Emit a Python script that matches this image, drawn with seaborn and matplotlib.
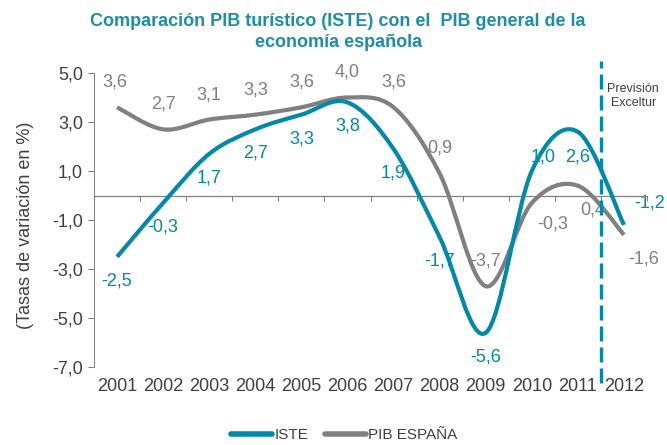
import matplotlib
matplotlib.use("Agg")
import matplotlib.pyplot as plt
import seaborn as sns
import pandas as pd
from matplotlib.path import Path
from matplotlib.patches import PathPatch
from matplotlib.lines import Line2D

YEARS = ["2001", "2002", "2003", "2004", "2005", "2006",
         "2007", "2008", "2009", "2010", "2011", "2012"]
ISTE = [-2.5, -0.3, 1.7, 2.7, 3.3, 3.8, 1.9, -1.7, -5.6, 1.0, 2.6, -1.2]
PIB_ESPANA = [3.6, 2.7, 3.1, 3.3, 3.6, 4.0, 3.6, 0.9, -3.7, -0.3, 0.4, -1.6]
Y_TICKS = [-7, -5, -3, -1, 1, 3, 5]

TEAL = "#0089A9"
GREY = "#808080"
DARK = "#404040"

# label offsets in pixels (dx, dy), dy positive = up
PIB_OFFSETS = [(-2, 25)] + [(0, 25)] * 8 + [(21, -21), (15, -24), (20, -24)]
ISTE_OFFSETS = [(0, -24)] * 9 + [(11, 14), (0, -25), (26, 22)]


def smooth_path(xs, ys):
    """Excel-like smoothed line: cubic Bezier through every point."""
    n = len(xs)
    verts = [(xs[0], ys[0])]
    codes = [Path.MOVETO]
    for i in range(n - 1):
        x0, y0 = (xs[i - 1], ys[i - 1]) if i > 0 else (xs[i], ys[i])
        x3, y3 = (xs[i + 2], ys[i + 2]) if i + 2 < n else (xs[i + 1], ys[i + 1])
        c1 = (xs[i] + (xs[i + 1] - x0) / 6, ys[i] + (ys[i + 1] - y0) / 6)
        c2 = (xs[i + 1] - (x3 - xs[i]) / 6, ys[i + 1] - (y3 - ys[i]) / 6)
        verts += [c1, c2, (xs[i + 1], ys[i + 1])]
        codes += [Path.CURVE4] * 3
    return Path(verts, codes)


sns.set_theme(style="white")
plt.rcParams["font.family"] = ["Liberation Sans", "DejaVu Sans"]

df = pd.DataFrame({"year": YEARS, "ISTE": ISTE, "PIB ESPAÑA": PIB_ESPANA})
df["x"] = range(len(df))

fig = plt.figure(figsize=(6.67, 4.45), dpi=100)
ax = fig.add_axes([0.141, 0.175, 0.829, 0.661])

for col, color, z in [("PIB ESPAÑA", GREY, 3), ("ISTE", TEAL, 4)]:
    patch = PathPatch(smooth_path(df["x"].tolist(), df[col].tolist()),
                      facecolor="none", edgecolor=color, lw=3.0,
                      capstyle="butt", joinstyle="round", zorder=z)
    ax.add_patch(patch)

for col, color, offs in [("PIB ESPAÑA", GREY, PIB_OFFSETS), ("ISTE", TEAL, ISTE_OFFSETS)]:
    for xv, yv, (dx, dy) in zip(df["x"], df[col], offs):
        ax.annotate(f"{yv:.1f}".replace(".", ","), (xv, yv), xytext=(dx, dy),
                    textcoords="offset pixels", ha="center", va="center",
                    fontsize=13, color=color, zorder=2)

ax.set_xlim(-0.5, len(YEARS) - 0.5)
ax.set_ylim(-7, 5)
ax.set_yticks(Y_TICKS)
ax.set_yticklabels([f"{v:.1f}".replace(".", ",") for v in Y_TICKS])
ax.tick_params(axis="y", left=True, direction="out", length=4.5, width=0.75,
               color=GREY, pad=3.5, labelsize=13, labelcolor=DARK)

# category boundary ticks on the zero line
ax.spines["bottom"].set_position(("data", 0))
ax.spines["bottom"].set_color(GREY)
ax.spines["bottom"].set_linewidth(0.9)
ax.spines["left"].set_color(GREY)
ax.spines["left"].set_linewidth(0.75)
ax.set_xticks([i - 0.5 for i in range(len(YEARS) + 1)])
ax.set_xticklabels([])
ax.tick_params(axis="x", bottom=True, direction="out", length=3.6, width=0.75, color=GREY)
sns.despine(ax=ax, top=True, right=True)

sec = ax.secondary_xaxis("bottom")
sec.set_xticks(df["x"].tolist())
sec.set_xticklabels(YEARS)
sec.tick_params(length=0, pad=8, labelsize=13, labelcolor=DARK)
sec.spines["bottom"].set_visible(False)

ax.set_ylabel("(Tasas de variación en %)", fontsize=13, color=DARK)
ax.yaxis.set_label_coords(-0.108, 0.483)

# forecast divider
ax.axvline(len(YEARS) - 1.5, ymin=-0.055, ymax=1.04, clip_on=False,
           color=TEAL, lw=2.4, dashes=(4.5, 1.8), zorder=5)
ax.text(11.2, 4.06, "Previsión\nExceltur", ha="center", va="center",
        fontsize=9, color=DARK, linespacing=1.25)

fig.text(0.507, 1 - 32 / 445,
         "Comparación PIB turístico (ISTE) con el  PIB general de la\neconomía española",
         ha="center", va="center", fontsize=13, fontweight="bold",
         color="#1B8EAA", linespacing=1.25)

handles = [Line2D([], [], color=TEAL, lw=4, solid_capstyle="round"),
           Line2D([], [], color=GREY, lw=4, solid_capstyle="round")]
fig.legend(handles, ["ISTE", "PIB ESPAÑA"], loc="center",
           bbox_to_anchor=(0.516, 1 - 435 / 445), ncol=2, frameon=False,
           fontsize=11, handlelength=2.7, handletextpad=0.15,
           columnspacing=1.1, borderpad=0, labelcolor=DARK)

fig.savefig("out.png", dpi=100)
